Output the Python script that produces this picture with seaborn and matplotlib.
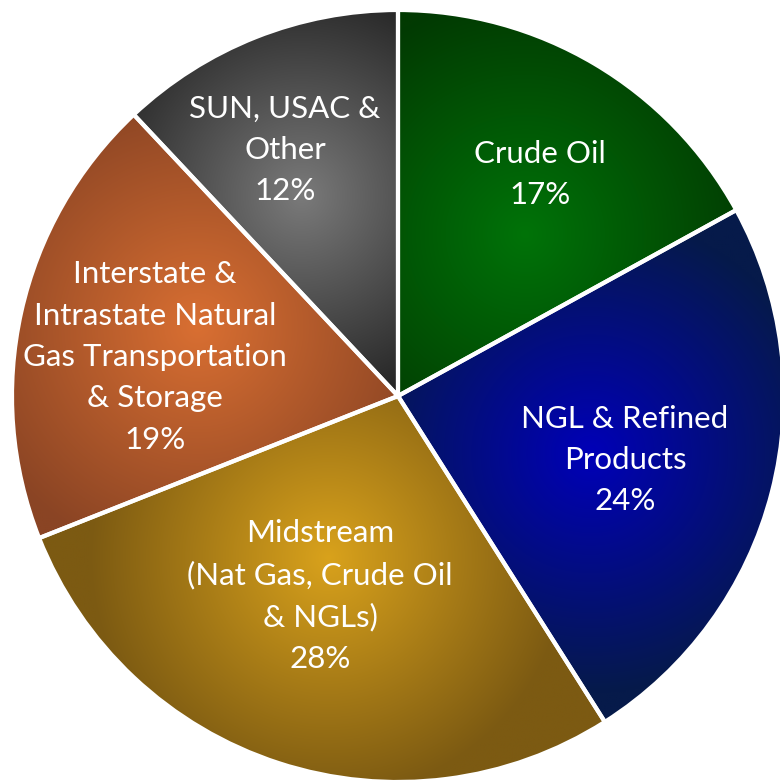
"""Segment mix pie chart with radial-gradient slices."""
import matplotlib
matplotlib.use("Agg")
import matplotlib.pyplot as plt
import numpy as np
import seaborn as sns

# -------------------- data --------------------
segments = [
    "Crude Oil",
    "NGL & Refined\nProducts",
    "Midstream\n(Nat Gas, Crude Oil\n& NGLs)",
    "Interstate &\nIntrastate Natural\nGas Transportation\n& Storage",
    "SUN, USAC &\nOther",
]
shares = [17, 24, 28, 19, 12]

# gradient colours per slice: bright centre -> dark rim
center_colors = ["#007308", "#0000b8", "#d9a21c", "#d96f32", "#7a7a7a"]
edge_colors = ["#023a02", "#061a4a", "#7c5a12", "#8a4424", "#1c1c1c"]
# where each slice's highlight sits (data units, pie radius = 1)
glow_points = [(0.33, 0.42), (0.50, -0.15), (-0.18, -0.42), (-0.52, 0.18), (-0.25, 0.52)]
label_points = [(0.368, 0.573), (0.588, -0.166), (-0.202, -0.518), (-0.630, 0.101), (-0.293, 0.637)]

CX, CY, R = 398, 396, 386  # pixel centre / radius of the pie in the 780x781 frame


def gradient_image(c0, c1, focus, spread=0.62, n=500):
    xs = np.linspace(-1.05, 1.05, n)
    X, Y = np.meshgrid(xs, xs[::-1])
    t = np.clip(np.hypot(X - focus[0], Y - focus[1]) / spread, 0, 1)
    a = np.array(matplotlib.colors.to_rgb(c0))
    b = np.array(matplotlib.colors.to_rgb(c1))
    return a + (b - a) * t[..., None]


def main() -> None:
    sns.set_theme(style="white")
    plt.rcParams["font.family"] = ["Lato", "DejaVu Sans"]

    fig = plt.figure(figsize=(7.8, 7.81), dpi=100)
    ax = fig.add_axes([0, 0, 1, 1])

    wedges, _ = ax.pie(shares, startangle=90, counterclock=False,
                       colors=center_colors, radius=1,
                       wedgeprops=dict(linewidth=0))
    for w, c0, c1, fp in zip(wedges, center_colors, edge_colors, glow_points):
        img = gradient_image(c0, c1, fp)
        im = ax.imshow(img, extent=(-1.05, 1.05, -1.05, 1.05), zorder=2,
                       interpolation="bilinear")
        im.set_clip_path(w)

    # white separators on top
    ax.pie(shares, startangle=90, counterclock=False, radius=1,
           wedgeprops=dict(fill=False, edgecolor="white", linewidth=3, zorder=3))

    for text, share, (x, y) in zip(segments, shares, label_points):
        ax.text(x, y, f"{text}\n{share}%", color="white", ha="center", va="center",
                fontsize=22.5, linespacing=1.58, zorder=4)

    ax.set_xlim(-CX / R, (780 - CX) / R)
    ax.set_ylim((CY - 781) / R, CY / R)
    ax.set_aspect("auto")
    ax.axis("off")
    fig.savefig("out.png", dpi=100)


if __name__ == "__main__":
    main()
